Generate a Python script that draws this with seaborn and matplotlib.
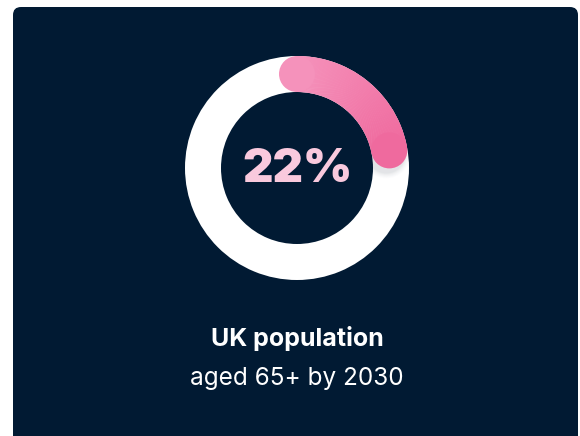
import matplotlib
matplotlib.use("Agg")
import matplotlib.pyplot as plt
from matplotlib.patches import Wedge, Circle, FancyBboxPatch
import numpy as np
import seaborn as sns

# Data
share_label = "22%"
share_value = 22.0          # percent of population
title_text = "UK population"
subtitle_text = "aged 65+ by 2030"

# Style
NAVY = "#011a33"
RING = "#ffffff"
PINK_START = "#f592bb"
PINK_END = "#ef6a9e"
LABEL_PINK = "#f9c9dd"

sns.set_theme(style="white")
plt.rcParams["font.family"] = ["Inter", "DejaVu Sans"]

W, H = 580, 436
fig = plt.figure(figsize=(W / 100, H / 100), dpi=100, facecolor="white")
ax = fig.add_axes([0, 0, 1, 1])
ax.set_xlim(0, W)
ax.set_ylim(0, H)
ax.set_aspect("equal")
ax.axis("off")

# Card background
card = FancyBboxPatch((13, -20), 565, H - 7 + 20,
                      boxstyle="round,pad=0,rounding_size=8",
                      facecolor=NAVY, edgecolor="none", zorder=0)
ax.add_patch(card)

# Donut geometry
cx, cy = 297, H - 168
r_out, width = 112, 36
r_mid = r_out - width / 2

# Full white track
track = Wedge((cx, cy), r_out, 0, 360, width=width,
              facecolor=RING, edgecolor="none", zorder=1)
ax.add_patch(track)

# Pink progress arc, clockwise from 12 o'clock, with a colour gradient
sweep = share_value / 100.0 * 360.0
n_seg = 120
colors = sns.blend_palette([PINK_START, PINK_END], n_colors=n_seg)
edges = np.linspace(0, sweep, n_seg + 1)
end_ang = np.deg2rad(90 - sweep)
ex, ey = cx + r_mid * np.cos(end_ang), cy + r_mid * np.sin(end_ang)

# faint shadow of the end cap on the white track
for k, a in enumerate([0.035, 0.03, 0.025, 0.02, 0.015, 0.01]):
    sh = Circle((ex - 3, ey - 4), width / 2 + 1 + k, facecolor="#3a4658",
                alpha=a, edgecolor="none", zorder=1.5)
    ax.add_patch(sh)
    sh.set_clip_path(track)

for i in range(n_seg):
    t1 = 90 - edges[i + 1]
    t2 = 90 - edges[i] + 0.4
    ax.add_patch(Wedge((cx, cy), r_out, t1, t2, width=width,
                       facecolor=colors[i], edgecolor="none", zorder=2))

# Rounded caps
ax.add_patch(Circle((cx, cy + r_mid), width / 2, facecolor=colors[0],
                    edgecolor="none", zorder=2))
ax.add_patch(Circle((ex, ey), width / 2, facecolor=colors[-1],
                    edgecolor="none", zorder=2))

# Centre label
ax.text(cx, H - 170, share_label, ha="center", va="center",
        fontsize=34, fontweight="black", color=LABEL_PINK, zorder=3)

# Caption
ax.text(cx, H - 346, title_text, ha="center", va="baseline",
        fontsize=18, fontweight="bold", color="white", zorder=3)
ax.text(cx, H - 385, subtitle_text, ha="center", va="baseline",
        fontsize=17.5, fontweight="normal", color="white", zorder=3)

fig.savefig("out.png", dpi=100, facecolor="white")
